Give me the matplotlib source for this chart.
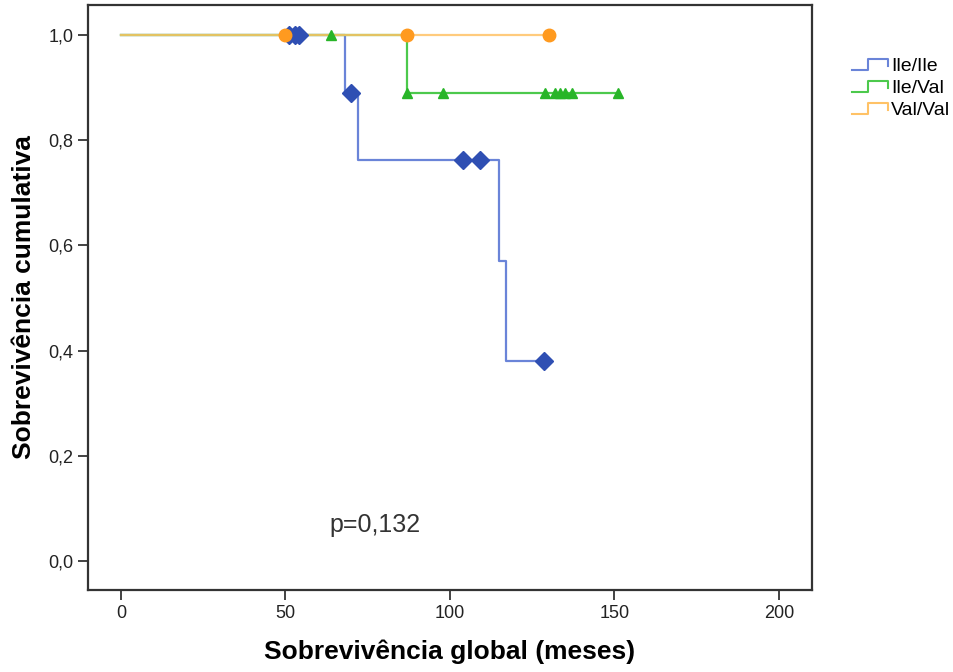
import numpy as np
import matplotlib
matplotlib.use("Agg")
import matplotlib.pyplot as plt
from matplotlib.legend_handler import HandlerBase
from matplotlib.lines import Line2D

plt.rcParams['font.family'] = ['Liberation Sans', 'DejaVu Sans']

groups = ["Ile/Ile", "Ile/Val", "Val/Val"]

# step times and survival after each step
ile_ile_t = [0, 68, 72, 115, 117]
ile_ile_s = [1.0, 0.889, 0.762, 0.571, 0.381]
ile_ile_end = 129
ile_ile_cens = [51, 53, 54, 70, 104, 109, 128.5]

ile_val_t = [0, 87]
ile_val_s = [1.0, 0.889]
ile_val_end = 151
ile_val_cens = [64, 87, 98, 129, 132, 133.5, 135, 137, 151]

val_val_t = [0]
val_val_s = [1.0]
val_val_end = 130
val_val_cens = [50, 87, 130]

line_colors = ["#6a84d8", "#4cc94c", "#ffc266"]
mark_colors = ["#2f4fb3", "#28b528", "#ff9a1f"]
markers = ["D", "^", "o"]
msizes = [9, 7, 9]

xticks = [0, 50, 100, 150, 200]
yticks = [0.0, 0.2, 0.4, 0.6, 0.8, 1.0]


class StepHandler(HandlerBase):
    def create_artists(self, legend, orig, xd, yd, w, h, fontsize, trans):
        xs = [-xd, -xd + w * 0.45, -xd + w * 0.45, -xd + w, -xd + w]
        ys = [h * 0.1, h * 0.1, h * 0.9, h * 0.9, h * 0.4]
        ln = Line2D(xs, ys, color=orig.get_color(), lw=1.5, transform=trans)
        return [ln]


fig = plt.figure(figsize=(9.54, 6.72), dpi=100)
ax = fig.add_axes([0.0922, 0.122, 0.7588, 0.8706])

data = [(ile_ile_t, ile_ile_s, ile_ile_end, ile_ile_cens),
        (ile_val_t, ile_val_s, ile_val_end, ile_val_cens),
        (val_val_t, val_val_s, val_val_end, val_val_cens)]

handles = []
for i, (t, s, end, cens) in enumerate(data):
    tt = list(t) + [end]
    ss = list(s) + [s[-1]]
    alpha = 0.85 if i == 2 else 1.0
    h, = ax.step(tt, ss, where="post", color=line_colors[i], lw=1.6,
                 alpha=alpha, zorder=2 + i, label=groups[i])
    handles.append(h)
    idx = np.searchsorted(t, cens, side="right") - 1
    cy = np.array(s)[idx]
    ax.plot(cens, cy, linestyle="none", marker=markers[i], ms=msizes[i],
            color=mark_colors[i], zorder=5 + i)

ax.text(63.5, 0.056, "p=0,132", fontsize=18, color="#333333")

ax.set_xlim(-10, 210)
ax.set_ylim(-0.055, 1.057)
ax.set_xticks(xticks)
ax.set_yticks(yticks)
ax.set_yticklabels([f"{v:.1f}".replace(".", ",") for v in yticks])
ax.tick_params(direction="out", length=7, width=1.2, labelsize=13,
               colors="#222222")
for sp in ax.spines.values():
    sp.set_linewidth(1.6)
    sp.set_color("#333333")

ax.set_xlabel("Sobrevivência global (meses)", fontsize=19, fontweight="bold",
              labelpad=13)
ax.set_ylabel("Sobrevivência cumulativa", fontsize=19, fontweight="bold",
              labelpad=9)

fig.legend(handles=handles, labels=groups, loc="upper left",
           bbox_to_anchor=(0.889, 0.92), frameon=False, fontsize=14,
           handler_map={Line2D: StepHandler()}, handlelength=1.85,
           handletextpad=0.15, labelspacing=0.22, borderpad=0.2,
           borderaxespad=0.0)

fig.savefig("out.png", dpi=100)
